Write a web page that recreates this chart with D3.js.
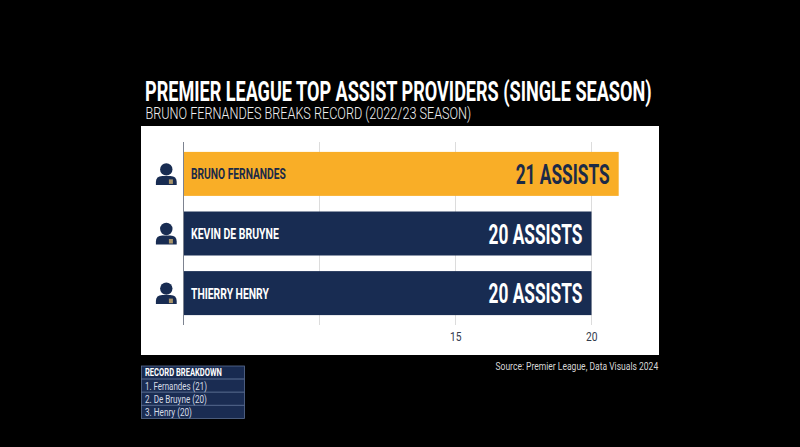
<!DOCTYPE html>
<html><head><meta charset="utf-8">
<script src="https://cdn.jsdelivr.net/npm/d3@7/dist/d3.min.js"></script>
<style>html,body{margin:0;background:#000;overflow:hidden}svg{display:block}</style>
</head><body><svg id="c" width="800" height="447"></svg>
<script>
const players=["BRUNO FERNANDES","KEVIN DE BRUYNE","THIERRY HENRY"];
const assists=[21,20,20];
const barColors=["#F9AE27","#182C52","#182C52"];
const valueColors=["#1B2A47","#FFFFFF","#FFFFFF"];
const nameColors=["#1B2A47","#FFFFFF","#FFFFFF"];
const gridTicks=[10,15,20];
const labelTicks=[15,20];
const breakdownTitle="RECORD BREAKDOWN";
const breakdownRows=["1. Fernandes (21)","2. De Bruyne (20)","3. Henry (20)"];
const titleText="PREMIER LEAGUE TOP ASSIST PROVIDERS (SINGLE SEASON)";
const subtitleText="BRUNO FERNANDES BREAKS RECORD (2022/23 SEASON)";
const sourceText="Source: Premier League, Data Visuals 2024";

const svg=d3.select("#c");
const cond='Roboto,"Liberation Sans",sans-serif';
const x=d3.scaleLinear().domain([5,20]).range([183.5,591.5]);
const y=d3.scaleBand().domain(players).range([142,325]).paddingInner(0.262).paddingOuter(0.166);

function squeeze(parent,o){
  const t=parent.append("text").attr("fill",o.fill).attr("font-family",o.family||cond)
    .attr("font-weight",o.weight||400).attr("font-size",o.size).text(o.text);
  const n=t.node().getComputedTextLength();
  const sx=o.len/n;
  const left=o.right!=null?o.right-o.len:o.x;
  t.attr("transform",`translate(${left},${o.y}) scale(${sx},1)`);
  return t;
}

squeeze(svg,{text:titleText,x:145,y:100.5,len:507,size:28,weight:700,fill:"#fff"});
squeeze(svg,{text:subtitleText,x:145.5,y:119,len:326,size:16.5,weight:300,fill:"#f2f2f2"});

svg.append("rect").attr("x",141).attr("y",126).attr("width",518).attr("height",229).attr("fill","#fff");

svg.append("g").selectAll("line").data(gridTicks).join("line")
 .attr("x1",d=>x(d)).attr("x2",d=>x(d)).attr("y1",142).attr("y2",325)
 .attr("stroke","#dcdcdc").attr("stroke-width",1);

const row=svg.append("g").selectAll("g").data(players).join("g");
row.append("rect").attr("x",x(5)).attr("y",d=>y(d)).attr("height",y.bandwidth())
 .attr("width",(d,i)=>x(assists[i])-x(5)).attr("fill",(d,i)=>barColors[i]);

svg.append("line").attr("x1",x(5)).attr("x2",x(5)).attr("y1",142).attr("y2",325).attr("stroke","#7d8390").attr("stroke-width",1);

const nameLens=[95,88,78];
players.forEach((p,i)=>{
  const cy=y(p)+y.bandwidth()/2;
  squeeze(svg,{text:p,x:191,y:cy+5.5,len:nameLens[i],size:15.5,weight:700,fill:nameColors[i]});
  squeeze(svg,{text:assists[i]+" ASSISTS",right:x(assists[i])-9,y:cy+10,len:94,size:28,weight:700,fill:valueColors[i]});
  const icon=svg.append("g").attr("transform",`translate(166.3,${cy})`);
  icon.append("circle").attr("cy",-4.5).attr("r",6.2).attr("fill","#182C52");
  icon.append("path").attr("d","M-10.4,11 V8 Q-10.4,2 -4,2 H4 Q10.4,2 10.4,8 V11 Z").attr("fill","#182C52");
  icon.append("rect").attr("x",2.6).attr("y",5.5).attr("width",4).attr("height",4.5).attr("fill","#a9946a");
});

labelTicks.forEach(d=>{
  squeeze(svg,{text:String(d),x:x(d)-5.5,y:340.5,len:11.5,size:12,fill:"#333b4d"});
});

squeeze(svg,{text:sourceText,right:658.5,y:370,len:163,size:11.5,fill:"#d6d6d6"});

const t=svg.append("g").attr("transform","translate(141.5,366)");
const rowH=13.1;
const labels=[breakdownTitle].concat(breakdownRows);
const rowLens=[77,62,62,47];
t.selectAll("rect").data(labels).join("rect").attr("x",0).attr("y",(d,i)=>i*rowH).attr("width",103).attr("height",rowH)
 .attr("fill",(d,i)=>i?"#1A2C52":"#182A50").attr("stroke","#5B6E93").attr("stroke-width",0.8);
labels.forEach((d,i)=>{
  squeeze(t,{text:d,x:3.5,y:i*rowH+10.4,len:rowLens[i],size:11.5,weight:i?400:700,fill:i?"#d5dbe6":"#fff"});
});
</script></body></html>
